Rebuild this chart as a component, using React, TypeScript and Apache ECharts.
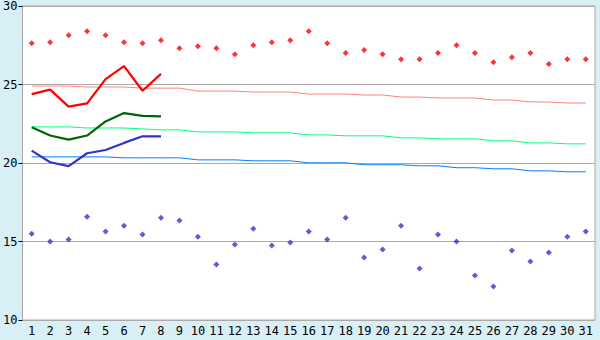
import React, { useEffect, useRef } from "react";
import * as echarts from "echarts";

const days = Array.from({ length: 31 }, (_, i) => String(i + 1));

const maxTemps = [27.63, 27.69, 28.14, 28.39, 28.14, 27.69, 27.63, 27.82, 27.31, 27.44, 27.31, 26.93, 27.5, 27.69, 27.82, 28.39, 27.63, 27.0, 27.19, 26.93, 26.61, 26.61, 27.0, 27.5, 27.0, 26.42, 26.74, 27.0, 26.3, 26.61, 26.61];
const minTemps = [15.5, 15.0, 15.13, 16.58, 15.63, 16.01, 15.44, 16.52, 16.33, 15.31, 13.54, 14.81, 15.82, 14.74, 14.93, 15.63, 15.13, 16.52, 13.98, 14.49, 16.01, 13.28, 15.44, 15.0, 12.84, 12.14, 14.43, 13.73, 14.3, 15.31, 15.63];

const curMax = [24.39, 24.67, 23.59, 23.8, 25.34, 26.17, 24.6, 25.68];
const curMean = [22.28, 21.75, 21.49, 21.75, 22.65, 23.18, 23.0, 22.97];
const curMin = [20.79, 20.05, 19.8, 20.62, 20.83, 21.28, 21.7, 21.7];

const normMax = [24.9, 24.9, 24.9, 24.84, 24.84, 24.84, 24.77, 24.77, 24.77, 24.58, 24.58, 24.58, 24.52, 24.52, 24.52, 24.39, 24.39, 24.39, 24.33, 24.33, 24.2, 24.2, 24.14, 24.14, 24.14, 24.01, 24.01, 23.89, 23.89, 23.82, 23.82];
const normMean = [22.3, 22.3, 22.3, 22.23, 22.23, 22.23, 22.17, 22.11, 22.11, 21.98, 21.98, 21.98, 21.92, 21.92, 21.92, 21.79, 21.79, 21.73, 21.73, 21.73, 21.6, 21.6, 21.54, 21.54, 21.54, 21.41, 21.41, 21.28, 21.28, 21.22, 21.22];
const normMin = [20.39, 20.39, 20.39, 20.39, 20.39, 20.33, 20.33, 20.33, 20.33, 20.2, 20.2, 20.2, 20.14, 20.14, 20.14, 20.01, 20.01, 20.01, 19.89, 19.89, 19.89, 19.82, 19.82, 19.7, 19.7, 19.63, 19.63, 19.5, 19.5, 19.44, 19.44];

const yTicks = { min: 10, max: 30, interval: 5 };

export default function App() {
  const ref = useRef<HTMLDivElement>(null);
  useEffect(() => {
    if (!ref.current) return;
    const chart = echarts.init(ref.current, null, { renderer: "svg" });
    const font = "DejaVu Sans Mono";
    const thin = (name: string, data: number[], color: string) => ({
      name,
      type: "line",
      data,
      symbol: "none",
      lineStyle: { color, width: 1 },
      z: 2,
    });
    const thick = (name: string, data: number[], color: string) => ({
      name,
      type: "line",
      data,
      symbol: "none",
      lineStyle: { color, width: 2.2 },
      z: 3,
    });
    const dots = (name: string, data: number[], color: string) => ({
      name,
      type: "scatter",
      data,
      symbol: "diamond",
      symbolSize: 6,
      itemStyle: { color },
      z: 4,
    });
    chart.setOption({
      animation: false,
      backgroundColor: "#d9eff6",
      grid: {
        left: 20,
        right: 5,
        top: 5,
        bottom: 20,
        show: true,
        backgroundColor: "#ffffff",
        borderColor: "#aaaaaa",
        borderWidth: 1,
      },
      xAxis: {
        type: "category",
        data: days,
        boundaryGap: true,
        axisLine: { lineStyle: { color: "#aaaaaa", width: 1 } },
        axisTick: { alignWithLabel: true, length: 5, lineStyle: { color: "#000" } },
        axisLabel: { color: "#000", fontFamily: font, fontSize: 12, margin: 5, interval: 0 },
        splitLine: { show: false },
      },
      yAxis: {
        type: "value",
        min: yTicks.min,
        max: yTicks.max,
        interval: yTicks.interval,
        axisLine: { show: true, lineStyle: { color: "#aaaaaa", width: 1 } },
        axisTick: { show: true, length: 4, lineStyle: { color: "#000" } },
        axisLabel: { color: "#000", fontFamily: font, fontSize: 12, margin: 5 },
        splitLine: { show: true, lineStyle: { color: "#aaaaaa", width: 1 } },
      },
      series: [
        thin("normMax", normMax, "#ff8080"),
        thin("normMean", normMean, "#00ff80"),
        thin("normMin", normMin, "#0080ff"),
        thick("curMax", curMax, "#ff0000"),
        thick("curMean", curMean, "#006600"),
        thick("curMin", curMin, "#3333cc"),
        dots("maxTemps", maxTemps, "#ff0000"),
        dots("minTemps", minTemps, "#3333cc"),
      ],
    });
    return () => chart.dispose();
  }, []);
  return (
    <div
      ref={ref}
      style={{ position: "fixed", left: 0, top: 0, width: 600, height: 340 }}
    />
  );
}
